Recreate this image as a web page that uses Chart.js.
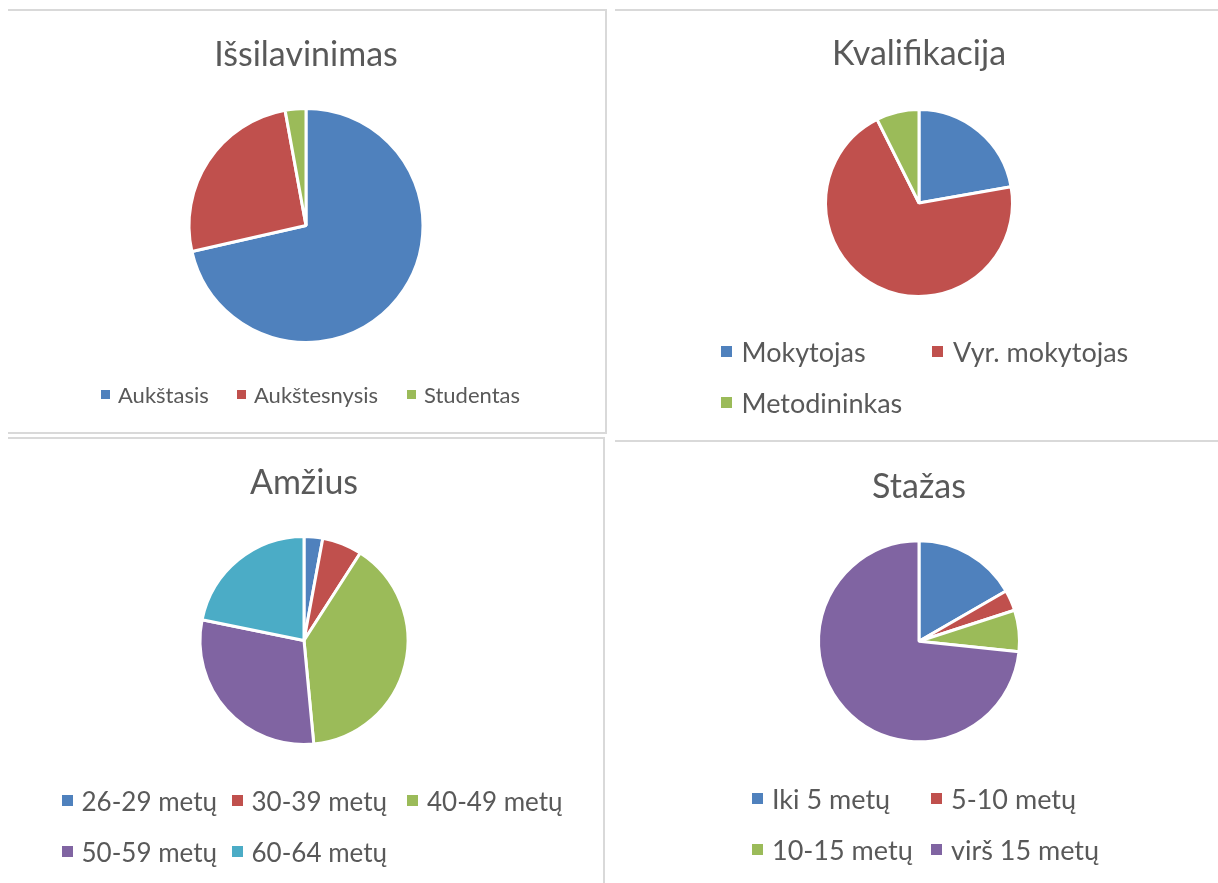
<!DOCTYPE html>
<html>
<head>
<meta charset="utf-8">
<script src="https://cdn.jsdelivr.net/npm/chart.js@4"></script>
<style>
  body { margin: 0; background: #fff; width: 1218px; height: 883px; overflow: hidden; position: relative; font-family: Lato, sans-serif; color: #595959; }
  .line { position: absolute; background: #d9d9d9; }
  canvas { position: absolute; }
  .legend { position: absolute; display: grid; align-items: center; white-space: nowrap; }
  .legend .item { display: flex; align-items: center; }
  .legend .box { display: inline-block; flex: none; }
</style>
</head>
<body>
<!-- panel frames -->
<div class="line" style="left:8px;top:9px;width:599px;height:2px"></div>
<div class="line" style="left:605px;top:9px;width:2px;height:425px"></div>
<div class="line" style="left:8px;top:432px;width:599px;height:2px"></div>
<div class="line" style="left:615px;top:9px;width:603px;height:2px"></div>
<div class="line" style="left:8px;top:437px;width:597px;height:2px"></div>
<div class="line" style="left:603px;top:437px;width:2px;height:446px"></div>
<div class="line" style="left:615px;top:440px;width:603px;height:2px"></div>

<canvas id="c1"></canvas><div id="l1" class="legend"></div>
<canvas id="c2"></canvas><div id="l2" class="legend"></div>
<canvas id="c3"></canvas><div id="l3" class="legend"></div>
<canvas id="c4"></canvas><div id="l4" class="legend"></div>

<script>
// Išsilavinimas
const eduLabels = ['Aukštasis', 'Aukštesnysis', 'Studentas'];
const eduValues = [25, 9, 1];

// Kvalifikacija
const qualLabels = ['Mokytojas', 'Vyr. mokytojas', 'Metodininkas'];
const qualValues = [6, 19, 2];

// Amžius (%)
const ageLabels = ['26-29 metų', '30-39 metų', '40-49 metų', '50-59 metų', '60-64 metų'];
const ageValues = [2.9, 6.2, 39.4, 29.7, 21.8];

// Stažas
const expLabels = ['Iki 5 metų', '5-10 metų', '10-15 metų', 'virš 15 metų'];
const expValues = [5, 1, 2, 22];

const palette = ['#4F81BD', '#C0504D', '#9BBB59', '#8064A2', '#4BACC6'];
const TEXT = '#595959';
const BW = 3;

function makePie(p) {
  const canvas = document.getElementById(p.id);
  const lineH = p.titleSize * 1.2;
  const padTop = p.titleY - p.top - lineH / 2;
  const areaTop = p.top + padTop + lineH;
  const areaBottom = 2 * p.cy - areaTop;
  const h = Math.ceil(areaBottom - p.top) + 2;
  const w = 500;
  canvas.width = w; canvas.height = h;
  canvas.style.left = (p.cx - w / 2) + 'px';
  canvas.style.top = p.top + 'px';

  const chart = new Chart(canvas, {
    type: 'pie',
    data: {
      labels: p.labels,
      datasets: [{
        data: p.values,
        backgroundColor: palette.slice(0, p.values.length),
        borderColor: '#ffffff',
        borderWidth: BW,
        radius: p.r + BW / 2
      }]
    },
    options: {
      responsive: false,
      animation: false,
      events: [],
      layout: { padding: { top: 0, left: 0, right: 0, bottom: p.top + h - areaBottom } },
      plugins: {
        legend: { display: false },
        tooltip: { enabled: false },
        title: {
          display: true,
          text: p.title,
          color: TEXT,
          font: { family: 'Lato', size: p.titleSize, weight: 'normal', lineHeight: 1.2 },
          padding: { top: padTop, bottom: 0 }
        }
      }
    }
  });
  renderLegend(chart, p.legend);
  return chart;
}

function renderLegend(chart, lg) {
  const el = document.getElementById(lg.id);
  const items = chart.options.plugins.legend.labels.generateLabels(chart);
  el.style.left = lg.left + 'px';
  el.style.top = (lg.y - lg.rowH / 2) + 'px';
  el.style.gridTemplateColumns = lg.cols.map(c => c + 'px').join(' ');
  el.style.gridAutoRows = lg.rowH + 'px';
  el.style.fontSize = lg.size + 'px';
  items.forEach(it => {
    const d = document.createElement('div'); d.className = 'item';
    d.innerHTML = `<span class="box" style="width:${lg.box}px;height:${lg.box}px;background:${it.fillStyle};margin-right:${lg.gap}px"></span><span>${it.text}</span>`;
    el.appendChild(d);
  });
}

makePie({ id: 'c1', title: 'Išsilavinimas', labels: eduLabels, values: eduValues,
  cx: 305.5, cy: 225.5, r: 115.5, top: 12, titleY: 55, titleSize: 34,
  legend: { id: 'l1', left: 101, y: 394.5, cols: [136, 170, 130], rowH: 40, size: 22, box: 9, gap: 8 } });

makePie({ id: 'c2', title: 'Kvalifikacija', labels: qualLabels, values: qualValues,
  cx: 919, cy: 203, r: 92, top: 12, titleY: 54, titleSize: 34,
  legend: { id: 'l2', left: 720.5, y: 351.7, cols: [211.5, 220], rowH: 51.3, size: 27, box: 11, gap: 10 } });

makePie({ id: 'c3', title: 'Amžius', labels: ageLabels, values: ageValues,
  cx: 304.3, cy: 640.5, r: 102.5, top: 445, titleY: 483, titleSize: 34,
  legend: { id: 'l3', left: 61.5, y: 800.7, cols: [170, 175.5, 170], rowH: 51, size: 26, box: 11, gap: 9 } });

makePie({ id: 'c4', title: 'Stažas', labels: expLabels, values: expValues,
  cx: 918.6, cy: 641.3, r: 99, top: 448, titleY: 487, titleSize: 34,
  legend: { id: 'l4', left: 752, y: 798, cols: [179, 220], rowH: 51, size: 27, box: 11, gap: 9 } });
</script>
</body>
</html>
